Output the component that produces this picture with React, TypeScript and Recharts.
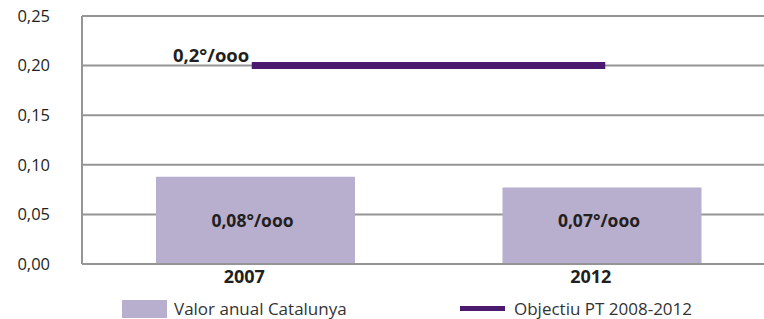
import React from "react"
import { Bar, CartesianGrid, ComposedChart, LabelList, Line, XAxis, YAxis } from "recharts"

// data
const years = ["2007", "2012"]
const valorAnual = [0.088, 0.077]
const objectiu = [0.2, 0.2]
const valorLabels = ["0,08°/ooo", "0,07°/ooo"]
const objectiuLabel = "0,2°/ooo"
const yTicks = [0, 0.05, 0.1, 0.15, 0.2, 0.25]

const data = years.map((year, i) => ({
  year,
  valor: valorAnual[i],
  objectiu: objectiu[i],
  label: valorLabels[i],
}))

const FONT = "'Open Sans', sans-serif"
const BAR_COLOR = "#b8aecd"
const LINE_COLOR = "#4b1a6e"
const GRID_COLOR = "#959595"
const TEXT = "#231f20"

const fmt = (v: number) => v.toFixed(2).replace(".", ",")

function TargetLabel(props: any) {
  const { x, y, index } = props
  if (index !== 0) return null
  return (
    <text x={x - 6} y={y - 4} textAnchor="end" fontFamily={FONT} fontSize={18.5} fontWeight={700} fill={TEXT}>
      {objectiuLabel}
    </text>
  )
}

// labels sit at the same height inside both bars
function BarLabel(props: any) {
  const { x, y, width, height, index } = props
  return (
    <text
      x={x + width / 2 - 3}
      y={y + height - 42}
      textAnchor="middle"
      dominantBaseline="middle"
      fontFamily={FONT}
      fontSize={17.5}
      fontWeight={700}
      fill={TEXT}
    >
      {valorLabels[index]}
    </text>
  )
}

function YearTick(props: any) {
  const { x, y, payload } = props
  return (
    <text x={x - 11} y={y} dy={19} textAnchor="middle" fontFamily={FONT} fontSize={18} fontWeight={700} fill={TEXT}>
      {payload.value}
    </text>
  )
}

export default function App() {
  return (
    <div
      style={{
        position: "fixed",
        left: 0,
        top: 0,
        width: 764,
        height: 319,
        overflow: "hidden",
        background: "#fff",
        fontFamily: FONT,
      }}
    >
      <ComposedChart
        width={790}
        height={340}
        data={data}
        margin={{ top: 16, right: 15, bottom: 46, left: 20 }}
        barSize={199}
      >
        <CartesianGrid vertical={false} stroke={GRID_COLOR} strokeWidth={2} />
        <XAxis
          dataKey="year"
          height={30}
          tickSize={0}
          tickMargin={0}
          axisLine={{ stroke: GRID_COLOR, strokeWidth: 2 }}
          tick={YearTick}
        />
        <YAxis
          width={62}
          domain={[0, 0.25]}
          ticks={yTicks}
          tickFormatter={fmt}
          tickSize={0}
          tickMargin={32}
          axisLine={{ stroke: GRID_COLOR, strokeWidth: 2 }}
          tick={{ fontFamily: FONT, fontSize: 16.5, fill: TEXT }}
        />
        <Bar dataKey="valor" fill={BAR_COLOR} isAnimationActive={false}>
          <LabelList dataKey="label" content={BarLabel} />
        </Bar>
        <Line
          dataKey="objectiu"
          stroke={LINE_COLOR}
          strokeWidth={7}
          strokeLinecap="square"
          dot={false}
          activeDot={false}
          isAnimationActive={false}
        >
          <LabelList dataKey="objectiu" content={TargetLabel} />
        </Line>
      </ComposedChart>

      {/* legend */}
      <div style={{ position: "absolute", left: 122, top: 298, display: "flex", alignItems: "center", fontSize: 17, lineHeight: "21px", color: "#333" }}>
        <span style={{ display: "inline-block", width: 45, height: 18, background: BAR_COLOR, marginRight: 7 }} />
        <span>Valor anual Catalunya</span>
      </div>
      <div style={{ position: "absolute", left: 460, top: 298, display: "flex", alignItems: "center", fontSize: 17, lineHeight: "21px", color: "#333" }}>
        <span style={{ display: "inline-block", width: 45, height: 5, background: LINE_COLOR, marginRight: 9 }} />
        <span>Objectiu PT 2008-2012</span>
      </div>
    </div>
  )
}
